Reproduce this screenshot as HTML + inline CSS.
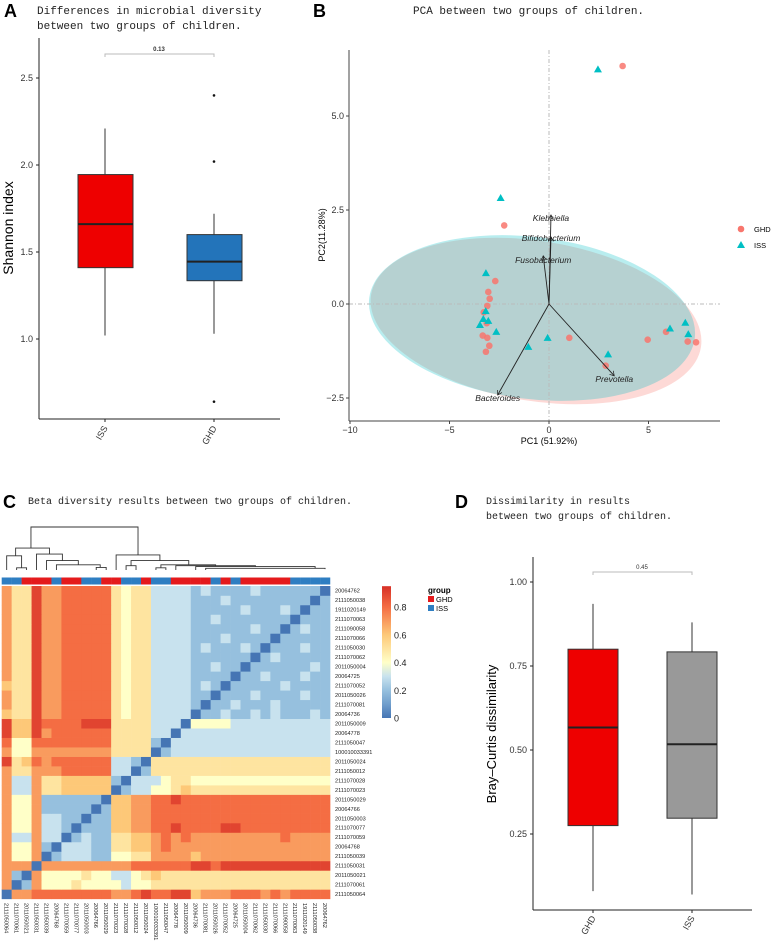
<!DOCTYPE html>
<html><head><meta charset="utf-8"><style>
html,body{margin:0;padding:0;background:#fff;}
svg{display:block;font-family:"Liberation Sans",sans-serif;}
.ttl{font-family:"Liberation Mono",monospace;font-size:11px;fill:#222;}
.ttl2{font-family:"Liberation Mono",monospace;font-size:10px;fill:#222;}
.tick{font-size:9px;fill:#333;}
</style></head><body>
<svg id="fig" width="772" height="945" viewBox="0 0 772 945" xmlns="http://www.w3.org/2000/svg">
<g id="pA">
 <text x="4" y="17" font-size="18" font-weight="bold">A</text>
 <text class="ttl" x="37" y="14">Differences in microbial diversity</text>
 <text class="ttl" x="37" y="29">between two groups of children.</text>
</g>
<g id="pB">
 <text x="313" y="17" font-size="18" font-weight="bold">B</text>
 <text class="ttl" x="413" y="14">PCA between two groups of children.</text>
</g>
<g id="pC">
 <text x="3" y="508" font-size="18" font-weight="bold">C</text>
 <text class="ttl2" x="28" y="504">Beta diversity results between two groups of children.</text>
</g>
<g id="pD">
 <text x="455" y="508" font-size="18" font-weight="bold">D</text>
 <text class="ttl2" x="486" y="504">Dissimilarity in results</text>
 <text class="ttl2" x="486" y="519">between two groups of children.</text>
</g>
</svg>
<script>
// ---------- DATA ----------
const aGroups=["ISS","GHD"];
const aQ1=[1.41,1.335], aQ3=[1.945,1.60], aMed=[1.66,1.445], aLo=[1.02,1.03], aHi=[2.21,1.72];
const aOutliers=[[],[2.40,2.02,0.64]];
const aTicks=[1.0,1.5,2.0,2.5];
const aPval="0.13";

const ghdX=[3.7,-2.25,-2.7,-3.05,-2.98,-3.1,-3.28,-3.13,-3.33,-3.1,-3.0,-3.17,1.02,2.85,4.96,5.88,6.97,7.39];
const ghdY=[6.33,2.09,0.61,0.32,0.14,-0.05,-0.22,-0.51,-0.84,-0.9,-1.11,-1.27,-0.9,-1.64,-0.95,-0.74,-1.0,-1.02];
const issX=[2.46,-2.43,-3.17,-3.18,-3.3,-3.05,-3.47,-2.65,-1.04,-0.07,2.97,6.08,6.85,7.0];
const issY=[6.24,2.82,0.82,-0.19,-0.4,-0.45,-0.56,-0.74,-1.14,-0.9,-1.34,-0.65,-0.5,-0.8];
const arrowNames=["Klebsiella","Bifidobacterium","Fusobacterium","Bacteroides","Prevotella"];
const arrowX=[0.1,0.1,-0.29,-2.58,3.28];
const arrowY=[2.37,1.78,1.28,-2.42,-1.91];
const pcaXTicks=[-10,-5,0,5], pcaYTicks=[-2.5,0,2.5,5.0];

const colNames=["2111050064","2111070061","2011050021","2111050031","2111050039","20064768","2111070059","2111070077","2011050003","20064766","2011050029","2111070023","2111070028","2111050012","2011050024","100010033391","2111050047","20064778","2011050009","20064736","2111070081","2011050026","2111070052","20064725","2011050004","2111070062","2111050030","2111070066","2111090058","2111070063","1911020149","2111050038","20064762"];
const colGroup="IIGGGIGGIIGGIIGIIGGGGIGIGGGGGIIII";
// distance x10, row k corresponds to column k
const heatRows=[
"077888888887789889967778887878888",
"702744454444344555555555555555555",
"720744445443345655555555555555555",
"777077777777788888899899999999999",
"744702333224455777767777777777777",
"744720333225566787777777777777777",
"733733023225566787877777777787777",
"744733202226677889888899888888888",
"744733220226677888888888888888888",
"744722222026677888888888888888888",
"744722222206677889888888888888888",
"733755666660233445655555555555555",
"733755666662033345544444444444444",
"755777888883302555555555555555555",
"956878888883320555555555555555555",
"744777777775555023333333333333333",
"844888888885555203333333333333333",
"966978888885555330333333333333333",
"966988889995555333044443333333333",
"655977888885455333302232232322232",
"755977888885455333320223222322222",
"755977888885455333322022232222322",
"655977888885455333323202222232222",
"755977888885455333322220223222322",
"755977888885455333322322022222232",
"755977888885455333322222202322222",
"755977888885455333323222320222322",
"755977888885455333322232222022222",
"755977888885455333322222232202322",
"755977888885455333322322222220222",
"755977888885455333322222322232022",
"755977888885455333322232222222202",
"755977888885455333323222232222220"];
const cbTicks=[0,0.2,0.4,0.6,0.8];
// dendrogram links: [leftLeafPos, rightLeafPos, height, leftChildH, rightChildH]
const dendroLinks=[[2.44,13.2,1.0,0.51,0.35],[0.9,4.3,0.51,0.33,0.37],[0,1.5,0.33,0,0.05],[1,2,0.05,0,0],[3,5.6,0.37,0,0.22],[4,7.2,0.22,0,0.12],[5,9.4,0.12,0,0.06],[9,10,0.06,0,0],[11,15.4,0.35,0,0.22],[12.5,18.3,0.22,0.1,0.12],[12,13,0.1,0,0],[15.5,21,0.12,0.05,0.1],[15,16,0.05,0,0],[17,25,0.1,0,0.08],[19,31,0.08,0,0.04],[20,32,0.04,0,0.02]];

const dGroups=["GHD","ISS"];
const dQ1=[0.275,0.297], dQ3=[0.80,0.792], dMed=[0.567,0.517], dLo=[0.08,0.07], dHi=[0.935,0.88];
const dTicks=[0.25,0.50,0.75,1.00];
const dPval="0.45";

// ---------- HELPERS ----------
const NS="http://www.w3.org/2000/svg";
function mk(parent,tag,attrs,txt){const e=document.createElementNS(NS,tag);for(const k in attrs)e.setAttribute(k,attrs[k]);if(txt!==undefined)e.textContent=txt;parent.appendChild(e);return e;}

// ---------- PANEL A ----------
(function(){
 const g=document.getElementById('pA');
 const y=v=>339-(v-1.0)*174;
 const xs=[105,214], fills=["#EE0000","#2374BA"];
 let e=mk(g,'line',{x1:39,y1:38,x2:39,y2:419,stroke:'#222','stroke-width':1});
 
 e=mk(g,'line',{x1:39,y1:419,x2:280,y2:419,stroke:'#222','stroke-width':1});
 
 aTicks.forEach(t=>{mk(g,'line',{x1:36,x2:39,y1:y(t),y2:y(t),stroke:'#222'});
  e=mk(g,'text',{x:33,y:y(t)+3,'text-anchor':'end',class:'tick'},t.toFixed(1));
  });
 e=mk(g,'text',{x:0,y:0,'font-size':14,'text-anchor':'middle',transform:'translate(13,228) rotate(-90)'},'Shannon index');
 
 aGroups.forEach((n,i)=>{const x=xs[i];
  mk(g,'line',{x1:x,x2:x,y1:y(aLo[i]),y2:y(aHi[i]),stroke:'#333','stroke-width':1});
  e=mk(g,'rect',{x:x-27,y:y(aQ3[i]),width:55,height:y(aQ1[i])-y(aQ3[i]),fill:fills[i],stroke:'#333','stroke-width':1});
  
  mk(g,'line',{x1:x-27,x2:x+28,y1:y(aMed[i]),y2:y(aMed[i]),stroke:'#222','stroke-width':2});
  aOutliers[i].forEach(o=>{e=mk(g,'circle',{cx:x,cy:y(o),r:1.3,fill:'#111'});
   });
  mk(g,'line',{x1:x,x2:x,y1:419,y2:422,stroke:'#222'});
  e=mk(g,'text',{x:0,y:0,'text-anchor':'end',class:'tick','font-size':10,transform:`translate(${x+3},${428}) rotate(-60)`},n);
  });
 mk(g,'path',{d:`M105 57V54H214V57`,fill:'none',stroke:'#bbb','stroke-width':1});
 e=mk(g,'text',{x:159,y:51,'text-anchor':'middle','font-size':6,'font-weight':'bold',fill:'#333'},aPval);
 
})();

// ---------- PANEL B ----------
(function(){
 const g=document.getElementById('pB');
 const x=v=>549+v*19.9, y=v=>304-v*37.6;
 let e=mk(g,'ellipse',{cx:536,cy:321,rx:167,ry:80,fill:'rgba(248,118,109,0.28)',transform:'rotate(9 536 321)'});
 
 e=mk(g,'ellipse',{cx:532,cy:318,rx:164,ry:81,fill:'rgba(0,191,196,0.28)',transform:'rotate(7 532 318)'});
 
 mk(g,'line',{x1:x(0),x2:x(0),y1:50,y2:421,stroke:'#bbb','stroke-dasharray':'4 2 1 2'});
 mk(g,'line',{x1:349,x2:720,y1:y(0),y2:y(0),stroke:'#bbb','stroke-dasharray':'4 2 1 2'});
 e=mk(g,'line',{x1:349,y1:50,x2:349,y2:421,stroke:'#444'});
 e=mk(g,'line',{x1:349,y1:421,x2:720,y2:421,stroke:'#444'});
 pcaXTicks.forEach(t=>{mk(g,'line',{x1:x(t),x2:x(t),y1:421,y2:424,stroke:'#444'});
  e=mk(g,'text',{x:x(t),y:433,'text-anchor':'middle',class:'tick'},t<0?'\u2212'+(-t):String(t));
  });
 pcaYTicks.forEach(t=>{mk(g,'line',{x1:346,x2:349,y1:y(t),y2:y(t),stroke:'#444'});
  e=mk(g,'text',{x:344,y:y(t)+3,'text-anchor':'end',class:'tick'},t<0?'\u2212'+(-t).toFixed(1):t.toFixed(1));
  });
 e=mk(g,'text',{x:549,y:444,'text-anchor':'middle','font-size':9},'PC1 (51.92%)');
 e=mk(g,'text',{x:0,y:0,'text-anchor':'middle','font-size':9,transform:'translate(325,235) rotate(-90)'},'PC2(11.28%)');
 ghdX.forEach((v,i)=>{e=mk(g,'circle',{cx:x(v),cy:y(ghdY[i]),r:3.3,fill:'#F8766D','fill-opacity':0.85});
  });
 issX.forEach((v,i)=>{const cx=x(v),cy=y(issY[i]);e=mk(g,'path',{d:`M${cx} ${cy-4}L${cx+4} ${cy+3}L${cx-4} ${cy+3}Z`,fill:'#00BFC4'});
  });
 const defs=mk(g,'defs',{});const mkr=mk(defs,'marker',{id:'ah',markerWidth:6,markerHeight:6,refX:5,refY:3,orient:'auto'});
 mk(mkr,'path',{d:'M0 0L5 3L0 6',fill:'none',stroke:'#222','stroke-width':0.8});
 const lblDy=[6,4,7,6,6];
 arrowNames.forEach((n,i)=>{e=mk(g,'line',{x1:x(0),y1:y(0),x2:x(arrowX[i]),y2:y(arrowY[i]),stroke:'#222','stroke-width':0.9,'marker-end':'url(#ah)'});
  
  e=mk(g,'text',{x:x(arrowX[i]),y:y(arrowY[i])+lblDy[i],'text-anchor':'middle','font-size':8.5,'font-style':'italic',fill:'#222'},n);
  });
 e=mk(g,'circle',{cx:741,cy:229,r:3.3,fill:'#F8766D'});
 e=mk(g,'text',{x:754,y:232,'font-size':7.5},'GHD');
 e=mk(g,'path',{d:'M741 241L745 248L737 248Z',fill:'#00BFC4'});
 e=mk(g,'text',{x:754,y:248,'font-size':7.5},'ISS');
})();

// ---------- PANEL C ----------
(function(){
 const g=document.getElementById('pC');
 const X0=1.7,Y0=586,CW=9.95,CH=9.48,N=colNames.length;
 const stops=[[0,[69,117,180]],[0.1,[112,158,204]],[0.2,[150,192,222]],[0.3,[200,226,238]],[0.4,[255,255,200]],[0.6,[253,200,120]],[0.8,[244,109,67]],[0.95,[215,48,39]]];
 function col(v){for(let i=1;i<stops.length;i++){if(v<=stops[i][0]){const a=stops[i-1],b=stops[i],t=(v-a[0])/(b[0]-a[0]);return 'rgb('+a[1].map((c,j)=>Math.round(c+(b[1][j]-c)*t)).join(',')+')';}}return 'rgb(215,48,39)';}
 const lx=i=>X0+(i+0.5)*CW, hy=h=>570-h*43;
 dendroLinks.forEach(L=>{const e=mk(g,'path',{d:`M${lx(L[0])} ${hy(L[3])}V${hy(L[2])}H${lx(L[1])}V${hy(L[4])}`,fill:'none',stroke:'#333','stroke-width':0.9});
  });
 for(let c=0;c<N;c++){const e=mk(g,'rect',{x:X0+c*CW,y:577.5,width:CW+0.2,height:7,fill:colGroup[c]==='G'?'#E41A1C':'#2E7EC2'});
  }
 for(let k=0;k<N;k++){const r=N-1-k;const row=heatRows[k];
  for(let c=0;c<N;c++){const v=parseInt(row[c],10)/10;
   const e=mk(g,'rect',{x:X0+c*CW,y:Y0+r*CH,width:CW+0.3,height:CH+0.3,fill:col(v)});
   }
  const t=mk(g,'text',{x:335,y:Y0+r*CH+CH/2+2,'font-size':5.6,fill:'#222'},colNames[k]);
  }
 for(let c=0;c<N;c++){const t=mk(g,'text',{x:0,y:0,'font-size':5.6,fill:'#222',transform:`translate(${lx(c)-2},903) rotate(90)`},colNames[c]);
  }
 const cy=v=>718-v*138.75;
 const gd=mk(g,'defs',{});const lg=mk(gd,'linearGradient',{id:'cbg',x1:0,y1:1,x2:0,y2:0});
 stops.forEach(s=>mk(lg,'stop',{offset:(s[0]/0.95),'stop-color':col(s[0])}));
 let e=mk(g,'rect',{x:382,y:cy(0.95),width:9,height:cy(0)-cy(0.95),fill:'url(#cbg)'});
 
 cbTicks.forEach(t=>{e=mk(g,'text',{x:394,y:cy(t)+3.5,'font-size':9,fill:'#222'},t===0?'0':t.toFixed(1));
  });
 e=mk(g,'text',{x:428,y:593,'font-size':8,'font-weight':'bold'},'group');
 e=mk(g,'rect',{x:428,y:596,width:6,height:6,fill:'#E41A1C'});
 e=mk(g,'text',{x:436,y:602,'font-size':7.5},'GHD');
 e=mk(g,'rect',{x:428,y:605,width:6,height:6,fill:'#2E7EC2'});
 e=mk(g,'text',{x:436,y:611,'font-size':7.5},'ISS');
})();

// ---------- PANEL D ----------
(function(){
 const g=document.getElementById('pD');
 const y=v=>582+(1-v)*336;
 const xs=[593,692], fills=["#EE0000","#999999"];
 let e=mk(g,'line',{x1:533,y1:557,x2:533,y2:910,stroke:'#222'});
 e=mk(g,'line',{x1:533,y1:910,x2:752,y2:910,stroke:'#222'});
 dTicks.forEach(t=>{mk(g,'line',{x1:530,x2:533,y1:y(t),y2:y(t),stroke:'#222'});
  e=mk(g,'text',{x:527,y:y(t)+3,'text-anchor':'end',class:'tick'},t.toFixed(2));
  });
 e=mk(g,'text',{x:0,y:0,'font-size':13,'text-anchor':'middle',transform:'translate(496,734) rotate(-90)'},'Bray\u2013Curtis dissimilarity');
 
 dGroups.forEach((n,i)=>{const x=xs[i];
  mk(g,'line',{x1:x,x2:x,y1:y(dLo[i]),y2:y(dHi[i]),stroke:'#333'});
  e=mk(g,'rect',{x:x-25,y:y(dQ3[i]),width:50,height:y(dQ1[i])-y(dQ3[i]),fill:fills[i],stroke:'#333'});
  
  mk(g,'line',{x1:x-25,x2:x+25,y1:y(dMed[i]),y2:y(dMed[i]),stroke:'#222','stroke-width':2});
  mk(g,'line',{x1:x,x2:x,y1:910,y2:913,stroke:'#222'});
  e=mk(g,'text',{x:0,y:0,'text-anchor':'end',class:'tick',transform:`translate(${x+3},${918}) rotate(-60)`},n);
  });
 mk(g,'path',{d:'M593 575V572H692V575',fill:'none',stroke:'#bbb'});
 e=mk(g,'text',{x:642,y:569,'text-anchor':'middle','font-size':6,fill:'#333'},dPval);
 
})();
</script>
</body></html>
